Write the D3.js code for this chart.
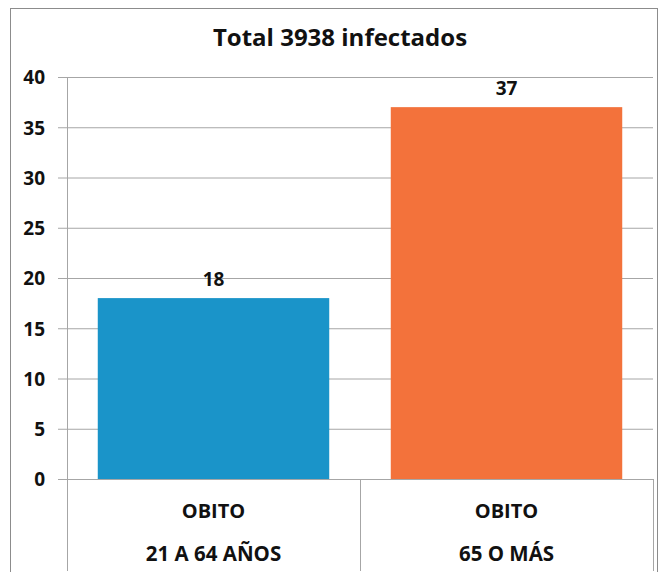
<!DOCTYPE html>
<html>
<head>
<meta charset="utf-8">
<script src="https://cdn.jsdelivr.net/npm/d3@7"></script>
<style>
  body { margin: 0; background: #fff; }
  text { font-family: "Open Sans", sans-serif; font-weight: bold; fill: #111; }
</style>
</head>
<body>
<div id="chart"></div>
<script>
var width = 659,
  height = 572;

var title = "Total 3938 infectados";
var groups = ["OBITO", "OBITO"];
var ages = ["21 A 64 AÑOS", "65 O MÁS"];
var values = [18, 37];
var colors = ["#1a94c9", "#f3723b"];
var yTicks = [0, 5, 10, 15, 20, 25, 30, 35, 40];

var plotLeft = 67, plotRight = 653, plotTop = 77, plotBottom = 479;

var svg = d3.select('#chart').append('svg')
  .attr('width', width)
  .attr('height', height);

// outer frame
svg.append('rect')
  .attr('x', 10.5).attr('y', 8.5)
  .attr('width', 647).attr('height', 600)
  .attr('fill', 'none')
  .attr('stroke', '#8c8c8c')
  .attr('stroke-width', 1);

var x = d3.scaleBand()
  .domain(d3.range(values.length))
  .range([plotLeft, plotRight])
  .paddingInner(0.21)
  .paddingOuter(0.105);

var xCat = d3.scaleBand()
  .domain(d3.range(values.length))
  .range([plotLeft, plotRight]);

var y = d3.scaleLinear()
  .domain([0, 40])
  .range([plotBottom, plotTop]);

// gridlines + y labels
var yAxis = svg.append('g')
  .attr('transform', 'translate(' + plotLeft + ',0)')
  .call(d3.axisLeft(y).tickValues(yTicks).tickSize(-(plotRight - plotLeft)).tickPadding(22));
yAxis.select('.domain').remove();
yAxis.selectAll('.tick line')
  .attr('x1', -9)
  .attr('stroke', '#a6a6a6');
yAxis.selectAll('.tick text')
  .style('font-size', '19px')
  .style('font-family', '"Open Sans", sans-serif')
  .attr('fill', '#111')
  .attr('dy', '0.36em');

// y axis line, running down through the category area
svg.append('line')
  .attr('x1', plotLeft + 0.5).attr('x2', plotLeft + 0.5)
  .attr('y1', plotTop).attr('y2', 571)
  .attr('stroke', '#a6a6a6');

// category dividers
xCat.domain().forEach(function(i) {
  var xe = Math.round(xCat(i) + xCat.bandwidth()) + 0.5;
  svg.append('line')
    .attr('x1', xe).attr('x2', xe)
    .attr('y1', plotBottom).attr('y2', 571)
    .attr('stroke', '#a6a6a6');
});

// bars
svg.selectAll('.bar')
  .data(values)
  .enter().append('rect').classed('bar', true)
  .attr('x', function(d, i) { return x(i); })
  .attr('y', function(d) { return y(d); })
  .attr('width', x.bandwidth())
  .attr('height', function(d) { return y(0) - y(d); })
  .attr('fill', function(d, i) { return colors[i]; });

// value labels
svg.selectAll('.val')
  .data(values)
  .enter().append('text').classed('val', true)
  .attr('x', function(d, i) { return x(i) + x.bandwidth() / 2; })
  .attr('y', function(d) { return y(d) - 12; })
  .attr('text-anchor', 'middle')
  .style('font-size', '19px')
  .text(function(d) { return d; });

// category labels
svg.selectAll('.cat1')
  .data(groups)
  .enter().append('text').classed('cat1', true)
  .attr('x', function(d, i) { return xCat(i) + xCat.bandwidth() / 2; })
  .attr('y', 518)
  .attr('text-anchor', 'middle')
  .style('font-size', '20px')
  .text(function(d) { return d; });

svg.selectAll('.cat2')
  .data(ages)
  .enter().append('text').classed('cat2', true)
  .attr('x', function(d, i) { return xCat(i) + xCat.bandwidth() / 2; })
  .attr('y', 561)
  .attr('text-anchor', 'middle')
  .style('font-size', '20.5px')
  .text(function(d) { return d; });

// x axis baseline
svg.append('line')
  .attr('x1', plotLeft - 9).attr('x2', plotRight)
  .attr('y1', plotBottom + 0.5).attr('y2', plotBottom + 0.5)
  .attr('stroke', '#a6a6a6');

svg.append('text')
  .attr('x', 340)
  .attr('y', 46)
  .attr('text-anchor', 'middle')
  .style('font-size', '24px')
  .text(title);
</script>
</body>
</html>
